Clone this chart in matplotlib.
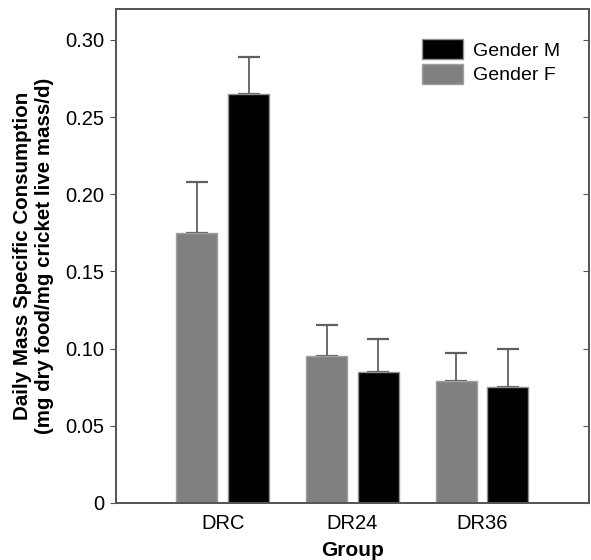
import numpy as np
import matplotlib.pyplot as plt

plt.rcParams['font.family'] = ['Liberation Sans', 'DejaVu Sans']

groups = ['DRC', 'DR24', 'DR36']
female_mean = [0.175, 0.095, 0.079]
female_err = [0.033, 0.020, 0.018]
male_mean = [0.265, 0.085, 0.075]
male_err = [0.024, 0.021, 0.025]
yticks = [0, 0.05, 0.10, 0.15, 0.20, 0.25, 0.30]
ytick_labels = ['0', '0.05', '0.10', '0.15', '0.20', '0.25', '0.30']

fig = plt.figure(figsize=(5.91, 5.6), dpi=100)
ax = fig.add_axes([0.196, 0.102, 0.8006, 0.882])

x = np.arange(1, len(groups) + 1)
w = 0.317
off = 0.2

ax.bar(x - off, female_mean, w, color='#808080', edgecolor='#a0a0a0', linewidth=1,
       label='Gender F', zorder=2)
ax.bar(x + off, male_mean, w, color='black', edgecolor='#909090', linewidth=1,
       label='Gender M', zorder=2)
ax.errorbar(x - off, female_mean, yerr=[np.zeros(3), female_err], fmt='none',
            ecolor='#606060', elinewidth=1.3, capsize=8, capthick=1.6, zorder=1)
ax.errorbar(x + off, male_mean, yerr=[np.zeros(3), male_err], fmt='none',
            ecolor='#606060', elinewidth=1.3, capsize=8, capthick=1.6, zorder=1)

ax.set_xlim(0.174, 3.826)
ax.set_ylim(0, 0.32)
ax.set_xticks(x)
ax.set_xticklabels(groups, fontsize=14.5)
ax.set_yticks(yticks)
ax.set_yticklabels(ytick_labels, fontsize=14.5)
ax.tick_params(axis='x', length=0, pad=8)
ax.tick_params(axis='y', direction='out', length=4, color='#555555', pad=4)

# right-hand ticks point inward, without labels
ax2 = ax.twinx()
ax2.set_ylim(0, 0.32)
ax2.set_yticks(yticks)
ax2.tick_params(axis='y', direction='in', length=4, color='#555555', labelright=False)

for a in (ax, ax2):
    for s in a.spines.values():
        s.set_color('#555555')
        s.set_linewidth(1.3)

ax.set_xlabel('Group', fontsize=15, fontweight='bold', labelpad=6)
ax.set_ylabel('Daily Mass Specific Consumption\n(mg dry food/mg cricket live mass/d)',
              fontsize=14.8, fontweight='bold', labelpad=8)

handles, labels = ax.get_legend_handles_labels()
ax.legend(handles[::-1], labels[::-1], loc='upper right', bbox_to_anchor=(0.975, 0.975),
          frameon=False, fontsize=14, handlelength=2.1, handleheight=1.25,
          handletextpad=0.5, labelspacing=0.2)

fig.savefig('out.png', dpi=100)
